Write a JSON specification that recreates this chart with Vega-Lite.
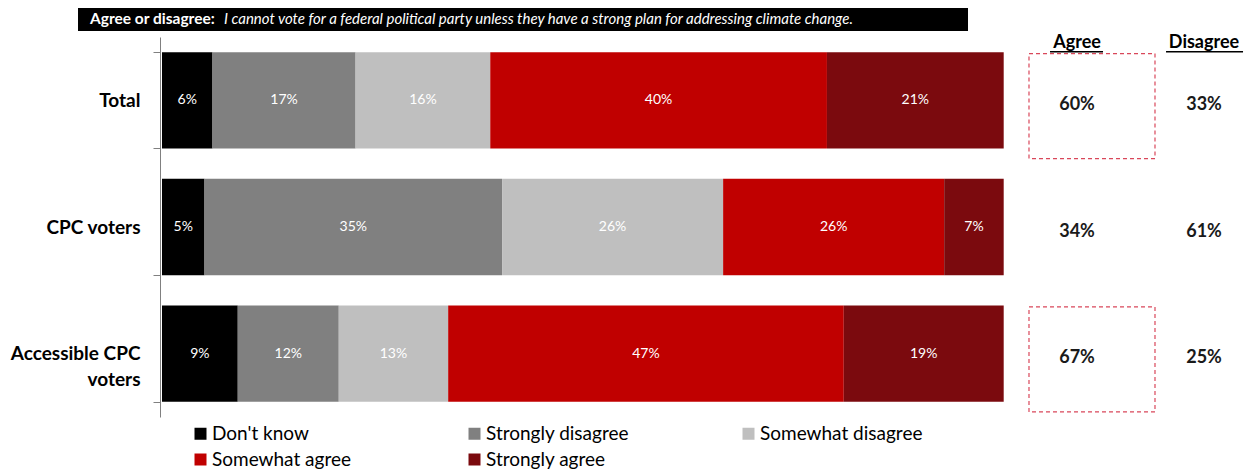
{
  "$schema": "https://vega.github.io/schema/vega-lite/v6.json",
  "width": 1090,
  "height": 380,
  "autosize": {"type": "none"},
  "padding": {"left": 162, "top": 37, "right": 2, "bottom": 54},
  "background": "white",
  "config": {"font": "Lato", "view": {"stroke": null}},
  "datasets": {
    "bars": [
      {"group": "Total", "response": "Don't know", "rank": 1, "pct": 0.06},
      {"group": "Total", "response": "Strongly disagree", "rank": 2, "pct": 0.17},
      {"group": "Total", "response": "Somewhat disagree", "rank": 3, "pct": 0.16},
      {"group": "Total", "response": "Somewhat agree", "rank": 4, "pct": 0.40},
      {"group": "Total", "response": "Strongly agree", "rank": 5, "pct": 0.21},
      {"group": "CPC voters", "response": "Don't know", "rank": 1, "pct": 0.05},
      {"group": "CPC voters", "response": "Strongly disagree", "rank": 2, "pct": 0.35},
      {"group": "CPC voters", "response": "Somewhat disagree", "rank": 3, "pct": 0.26},
      {"group": "CPC voters", "response": "Somewhat agree", "rank": 4, "pct": 0.26},
      {"group": "CPC voters", "response": "Strongly agree", "rank": 5, "pct": 0.07},
      {"group": "Accessible CPC voters", "response": "Don't know", "rank": 1, "pct": 0.09},
      {"group": "Accessible CPC voters", "response": "Strongly disagree", "rank": 2, "pct": 0.12},
      {"group": "Accessible CPC voters", "response": "Somewhat disagree", "rank": 3, "pct": 0.13},
      {"group": "Accessible CPC voters", "response": "Somewhat agree", "rank": 4, "pct": 0.47},
      {"group": "Accessible CPC voters", "response": "Strongly agree", "rank": 5, "pct": 0.19}
    ],
    "summary": [
      {"group": "Total", "agree": 0.60, "disagree": 0.33},
      {"group": "CPC voters", "agree": 0.34, "disagree": 0.61},
      {"group": "Accessible CPC voters", "agree": 0.67, "disagree": 0.25}
    ],
    "boxes": [
      {"group": "Total"},
      {"group": "Accessible CPC voters"}
    ],
    "header": [
      {"lead": "Agree or disagree:", "question": "I cannot vote for a federal political party unless they have a strong plan for addressing climate change.", "agreeHead": "Agree", "disagreeHead": "Disagree"}
    ]
  },
  "layer": [
    {
      "data": {"name": "bars"},
      "mark": {"type": "bar"},
      "encoding": {
        "y": {
          "field": "group", "type": "nominal",
          "scale": {"domain": ["Total", "CPC voters", "Accessible CPC voters"], "paddingInner": 0.24, "paddingOuter": 0.12},
          "axis": {
            "title": null, "offset": 2, "domainColor": "#808080", "tickColor": "#808080", "tickSize": 7,
            "tickBand": "extent", "tickOffset": -15, "labelPadding": 13, "labelFont": "Lato", "labelFontSize": 19, "labelFontWeight": "bold",
            "labelColor": "black", "labelLineHeight": 26, "labelLimit": 300,
            "labelExpr": "datum.label == 'Accessible CPC voters' ? ['Accessible CPC', 'voters'] : datum.label"
          }
        },
        "x": {
          "field": "pct", "type": "quantitative", "stack": "normalize",
          "scale": {"domain": [0, 1.295], "nice": false},
          "axis": null
        },
        "order": {"field": "rank", "type": "quantitative"},
        "color": {
          "field": "response", "type": "nominal",
          "scale": {
            "domain": ["Don't know", "Strongly disagree", "Somewhat disagree", "Somewhat agree", "Strongly agree"],
            "range": ["#000000", "#808080", "#bfbfbf", "#c00000", "#7b0a0e"]
          },
          "legend": {
            "orient": "none", "legendX": 29, "legendY": 387, "direction": "horizontal", "columns": 3,
            "title": null, "symbolType": "square", "symbolSize": 144, "symbolStrokeWidth": 0,
            "labelFontSize": 19, "labelFont": "Lato", "labelColor": "black", "columnPadding": 90, "rowPadding": 6,
            "gridAlign": "all", "labelLimit": 300, "labelOffset": 2, "padding": 0
          }
        }
      }
    },
    {
      "data": {"name": "bars"},
      "mark": {"type": "text", "fontSize": 14, "baseline": "middle", "color": "white"},
      "encoding": {
        "y": {"field": "group", "type": "nominal"},
        "x": {"field": "pct", "type": "quantitative", "stack": "normalize", "bandPosition": 0.5},
        "detail": {"field": "response", "type": "nominal"},
        "order": {"field": "rank", "type": "quantitative"},
        "text": {"field": "pct", "type": "quantitative", "format": ".0%"}
      }
    },
    {
      "data": {"name": "summary"},
      "mark": {"type": "text", "fontWeight": "bold", "fontSize": 18, "color": "#1a1a1a", "baseline": "middle"},
      "encoding": {
        "x": {"datum": 1.0871, "type": "quantitative"},
        "y": {"field": "group", "type": "nominal", "bandPosition": 0.55},
        "text": {"field": "agree", "type": "quantitative", "format": ".0%"}
      }
    },
    {
      "data": {"name": "summary"},
      "mark": {"type": "text", "fontWeight": "bold", "fontSize": 18, "color": "#1a1a1a", "baseline": "middle"},
      "encoding": {
        "x": {"datum": 1.238, "type": "quantitative"},
        "y": {"field": "group", "type": "nominal", "bandPosition": 0.55},
        "text": {"field": "disagree", "type": "quantitative", "format": ".0%"}
      }
    },
    {
      "data": {"name": "boxes"},
      "mark": {"type": "point", "shape": "M-1.2,-1H1.2V1H-1.2Z", "size": 11025, "filled": false, "stroke": "#d9475a", "strokeDash": [4, 3], "strokeWidth": 1.2, "opacity": 1},
      "encoding": {
        "x": {"datum": 1.1049, "type": "quantitative"},
        "y": {"field": "group", "type": "nominal", "bandPosition": 0.56}
      }
    },
    {
      "data": {"name": "header"},
      "mark": {"type": "point", "shape": "M-1,-0.02584H1V0.02584H-1Z", "size": 792100, "filled": true, "color": "black", "opacity": 1},
      "encoding": {
        "x": {"datum": 0.4289, "type": "quantitative"},
        "y": {"datum": "Total", "type": "nominal", "bandPosition": -0.34}
      }
    },
    {
      "data": {"name": "header"},
      "mark": {"type": "text", "color": "white", "fontWeight": "bold", "fontSize": 15.5, "align": "left", "baseline": "middle"},
      "encoding": {
        "x": {"datum": -0.0855, "type": "quantitative"},
        "y": {"datum": "Total", "type": "nominal", "bandPosition": -0.34},
        "text": {"field": "lead"}
      }
    },
    {
      "data": {"name": "header"},
      "mark": {"type": "text", "color": "white", "fontStyle": "italic", "fontSize": 15, "align": "left", "baseline": "middle"},
      "encoding": {
        "x": {"datum": 0.0737, "type": "quantitative"},
        "y": {"datum": "Total", "type": "nominal", "bandPosition": -0.34},
        "text": {"field": "question"}
      }
    },
    {
      "data": {"name": "header"},
      "mark": {"type": "text", "fontWeight": "bold", "fontSize": 18, "color": "black", "baseline": "middle"},
      "encoding": {
        "x": {"datum": 1.0871, "type": "quantitative"},
        "y": {"datum": "Total", "type": "nominal", "bandPosition": -0.096},
        "text": {"field": "agreeHead"}
      }
    },
    {
      "data": {"name": "header"},
      "mark": {"type": "text", "fontWeight": "bold", "fontSize": 18, "color": "black", "baseline": "middle"},
      "encoding": {
        "x": {"datum": 1.238, "type": "quantitative"},
        "y": {"datum": "Total", "type": "nominal", "bandPosition": -0.096},
        "text": {"field": "disagreeHead"}
      }
    },
    {
      "data": {"name": "header"},
      "mark": {"type": "point", "shape": "M-1,0H1", "size": 2809, "filled": false, "stroke": "black", "strokeWidth": 1.5, "opacity": 1},
      "encoding": {
        "x": {"datum": 1.0865, "type": "quantitative"},
        "y": {"datum": "Total", "type": "nominal", "bandPosition": -0.005}
      }
    },
    {
      "data": {"name": "header"},
      "mark": {"type": "point", "shape": "M-1,0H1", "size": 5929, "filled": false, "stroke": "black", "strokeWidth": 1.5, "opacity": 1},
      "encoding": {
        "x": {"datum": 1.2386, "type": "quantitative"},
        "y": {"datum": "Total", "type": "nominal", "bandPosition": -0.005}
      }
    }
  ]
}
